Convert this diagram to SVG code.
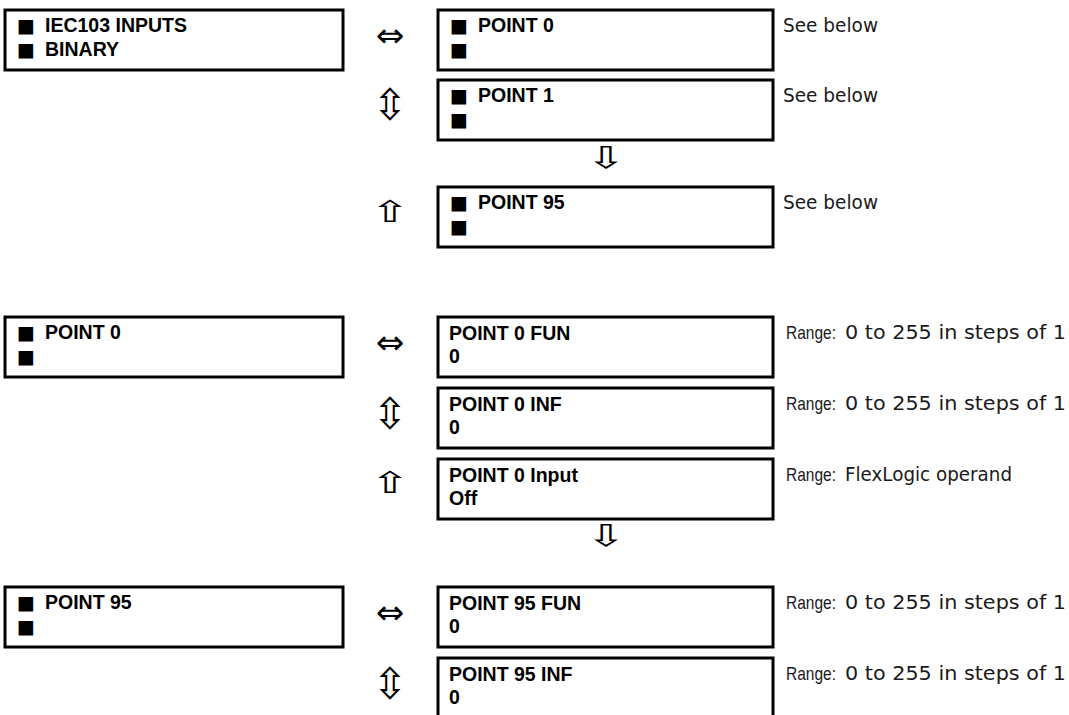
<svg xmlns="http://www.w3.org/2000/svg" width="1069" height="715" viewBox="0 0 1069 715">
<style>
.box{fill:#fff;stroke:#000;stroke-width:3}
.lbl{font-family:"Liberation Sans",Arial,sans-serif;font-weight:bold;font-size:19.5px;fill:#000}
.sq{font-family:"DejaVu Sans",sans-serif;font-weight:normal;font-size:19px}
.note{font-family:"DejaVu Sans",sans-serif;font-size:19.5px;fill:#1a1a1a}
.rg{font-family:"Liberation Sans",Arial,sans-serif;font-size:19px}
.arr{font-family:"DejaVu Sans",sans-serif;font-size:30px;fill:#000;text-anchor:middle}
.lr{font-size:34px}
</style>
<rect width="1069" height="715" fill="#fff"/>

<g id="menu-iec103-binary">
<rect class="box" x="5" y="10" width="338" height="60"/>
<text class="lbl" y="32"><tspan class="sq" x="17">■</tspan><tspan x="45">IEC103 INPUTS</tspan></text>
<text class="lbl" y="56"><tspan class="sq" x="17">■</tspan><tspan x="45">BINARY</tspan></text>
</g>

<g id="menu-point0-top">
<rect class="box" x="438" y="10" width="335" height="60"/>
<text class="lbl" y="32"><tspan class="sq" x="450">■</tspan><tspan x="478">POINT 0</tspan></text>
<text class="lbl" y="56"><tspan class="sq" x="450">■</tspan></text>
<text class="note" x="783" y="32" textLength="95" lengthAdjust="spacingAndGlyphs">See below</text>
</g>

<g id="menu-point1-top">
<rect class="box" x="438" y="80" width="335" height="60"/>
<text class="lbl" y="102"><tspan class="sq" x="450">■</tspan><tspan x="478">POINT 1</tspan></text>
<text class="lbl" y="126"><tspan class="sq" x="450">■</tspan></text>
<text class="note" x="783" y="102" textLength="95" lengthAdjust="spacingAndGlyphs">See below</text>
</g>

<g id="menu-point95-top">
<rect class="box" x="438" y="187" width="335" height="60"/>
<text class="lbl" y="209"><tspan class="sq" x="450">■</tspan><tspan x="478">POINT 95</tspan></text>
<text class="lbl" y="233"><tspan class="sq" x="450">■</tspan></text>
<text class="note" x="783" y="209" textLength="95" lengthAdjust="spacingAndGlyphs">See below</text>
</g>

<g id="menu-point0">
<rect class="box" x="5" y="317" width="338" height="60"/>
<text class="lbl" y="339"><tspan class="sq" x="17">■</tspan><tspan x="45">POINT 0</tspan></text>
<text class="lbl" y="363"><tspan class="sq" x="17">■</tspan></text>
</g>

<g id="point0-fun">
<rect class="box" x="438" y="317" width="335" height="60"/>
<text class="lbl" x="449" y="340">POINT 0 FUN</text>
<text class="lbl" x="449" y="363">0</text>
<text class="note" y="339"><tspan class="rg" x="786" textLength="50" lengthAdjust="spacingAndGlyphs">Range:</tspan><tspan x="845" textLength="221" lengthAdjust="spacingAndGlyphs">0 to 255 in steps of 1</tspan></text>
</g>

<g id="point0-inf">
<rect class="box" x="438" y="388" width="335" height="60"/>
<text class="lbl" x="449" y="411">POINT 0 INF</text>
<text class="lbl" x="449" y="434">0</text>
<text class="note" y="410"><tspan class="rg" x="786" textLength="50" lengthAdjust="spacingAndGlyphs">Range:</tspan><tspan x="845" textLength="221" lengthAdjust="spacingAndGlyphs">0 to 255 in steps of 1</tspan></text>
</g>

<g id="point0-input">
<rect class="box" x="438" y="459" width="335" height="60"/>
<text class="lbl" x="449" y="482">POINT 0 Input</text>
<text class="lbl" x="449" y="505">Off</text>
<text class="note" y="481"><tspan class="rg" x="786" textLength="50" lengthAdjust="spacingAndGlyphs">Range:</tspan><tspan x="845" textLength="167" lengthAdjust="spacingAndGlyphs">FlexLogic operand</tspan></text>
</g>

<g id="menu-point95">
<rect class="box" x="5" y="587" width="338" height="60"/>
<text class="lbl" y="609"><tspan class="sq" x="17">■</tspan><tspan x="45">POINT 95</tspan></text>
<text class="lbl" y="633"><tspan class="sq" x="17">■</tspan></text>
</g>

<g id="point95-fun">
<rect class="box" x="438" y="587" width="335" height="60"/>
<text class="lbl" x="449" y="610">POINT 95 FUN</text>
<text class="lbl" x="449" y="633">0</text>
<text class="note" y="609"><tspan class="rg" x="786" textLength="50" lengthAdjust="spacingAndGlyphs">Range:</tspan><tspan x="845" textLength="221" lengthAdjust="spacingAndGlyphs">0 to 255 in steps of 1</tspan></text>
</g>

<g id="point95-inf">
<rect class="box" x="438" y="658" width="335" height="62"/>
<text class="lbl" x="449" y="681">POINT 95 INF</text>
<text class="lbl" x="449" y="704">0</text>
<text class="note" y="680"><tspan class="rg" x="786" textLength="50" lengthAdjust="spacingAndGlyphs">Range:</tspan><tspan x="845" textLength="221" lengthAdjust="spacingAndGlyphs">0 to 255 in steps of 1</tspan></text>
</g>

<g id="connectors">
<text class="arr lr" x="390" y="47">⇔</text>
<text class="arr" transform="translate(390,120) scale(1.4,1.45)">⇳</text>
<text class="arr" transform="translate(606,168) scale(1.6,1)">⇩</text>
<text class="arr" transform="translate(390,222) scale(1.6,1)">⇧</text>
<text class="arr lr" x="390" y="354">⇔</text>
<text class="arr" transform="translate(390,429) scale(1.4,1.45)">⇳</text>
<text class="arr" transform="translate(390,493) scale(1.6,1)">⇧</text>
<text class="arr" transform="translate(606,546) scale(1.6,1)">⇩</text>
<text class="arr lr" x="390" y="624">⇔</text>
<text class="arr" transform="translate(390,699) scale(1.4,1.45)">⇳</text>
</g>
</svg>
